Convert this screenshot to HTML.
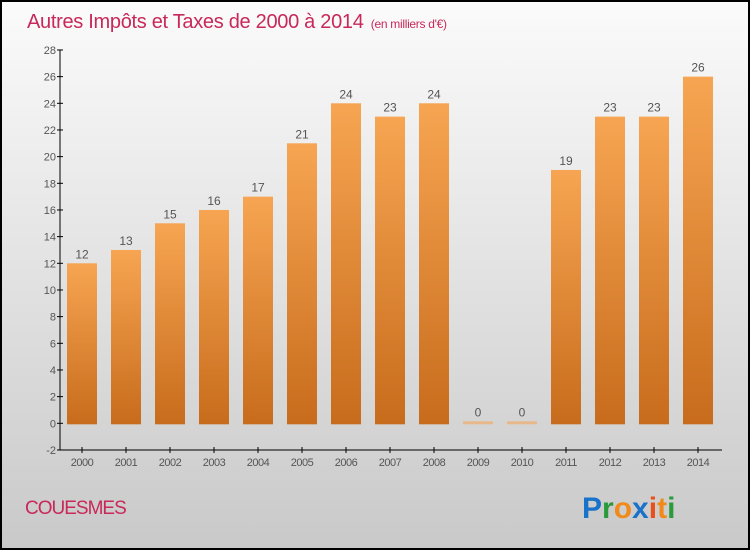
<!DOCTYPE html>
<html><head><meta charset="utf-8"><style>
body{margin:0;width:750px;height:550px;overflow:hidden;font-family:"Liberation Sans",sans-serif}
</style></head><body>
<svg width="750" height="550" xmlns="http://www.w3.org/2000/svg">
<defs>
<linearGradient id="bg" x1="0" y1="0" x2="0" y2="1"><stop offset="0" stop-color="#fbfbfb"/><stop offset="1" stop-color="#c9c9c9"/></linearGradient>
<linearGradient id="bar" x1="0" y1="0" x2="0" y2="1"><stop offset="0" stop-color="#f7a552"/><stop offset="1" stop-color="#c76c1c"/></linearGradient>
</defs>
<rect x="1" y="1" width="748" height="548" fill="url(#bg)" stroke="#000" stroke-width="2"/>
<text x="27" y="28" font-size="20" fill="#c8285a" letter-spacing="-0.3">Autres Impôts et Taxes de 2000 à 2014 <tspan font-size="12" dx="2">(en milliers d'€)</tspan></text>
<g id="axes"></g>
<g id="bars"></g>
<text x="25" y="514" font-size="19" fill="#c8285a" letter-spacing="-1">COUESMES</text>
<text x="582" y="518" font-size="30" font-weight="bold"><tspan fill="#1a73c8">P</tspan><tspan fill="#2a9a3a">r</tspan><tspan fill="#f08a1a">o</tspan><tspan fill="#1a73c8">x</tspan><tspan fill="#e8501a">i</tspan><tspan fill="#f08a1a">t</tspan><tspan fill="#2a9a3a">i</tspan></text>
</svg>
<script>
const years=["2000","2001","2002","2003","2004","2005","2006","2007","2008","2009","2010","2011","2012","2013","2014"];
const values=[12,13,15,16,17,21,24,23,24,0,0,19,23,23,26];
const ticks=[-2,0,2,4,6,8,10,12,14,16,18,20,22,24,26,28];
const NS="http://www.w3.org/2000/svg";
const y=v=>423.3-v*(400/30);
const x=i=>82+i*44;
const ax=document.getElementById('axes'),bg=document.getElementById('bars');
function mk(t,a,p){const e=document.createElementNS(NS,t);for(const k in a)e.setAttribute(k,a[k]);p.appendChild(e);return e;}
let l=mk('line',{x1:60,y1:50,x2:60,y2:450,stroke:'#000','stroke-width':1},ax);


l=mk('line',{x1:60,y1:450,x2:722,y2:450,stroke:'#000','stroke-width':1},ax);


ticks.forEach(t=>{
  const tk=mk('line',{x1:57,x2:63,y1:y(t),y2:y(t),stroke:'#000'},ax);
  
  
  const tx=mk('text',{x:56,y:y(t)+4,'text-anchor':'end','font-size':11,fill:'#555'},ax);
  tx.textContent=t;
  
  
});
years.forEach((yr,i)=>{
  const tk=mk('line',{x1:x(i),x2:x(i),y1:447,y2:453,stroke:'#000'},ax);
  
  
  const tx=mk('text',{x:x(i),y:466,'text-anchor':'middle','font-size':11,fill:'#555','letter-spacing':'-0.5'},ax);
  tx.textContent=yr;
  
  
  const v=values[i];
  const top=v===0?y(0)-2:y(v);
  const r=mk('rect',{x:x(i)-15,y:top,width:30,height:y(0)-top+1,fill:v===0?'#e8b88a':'url(#bar)'},bg);
  
  
  const vl=mk('text',{x:x(i),y:top-5,'text-anchor':'middle','font-size':12,fill:'#555'},bg);
  vl.textContent=v;
  
  
});
</script>
</body></html>
